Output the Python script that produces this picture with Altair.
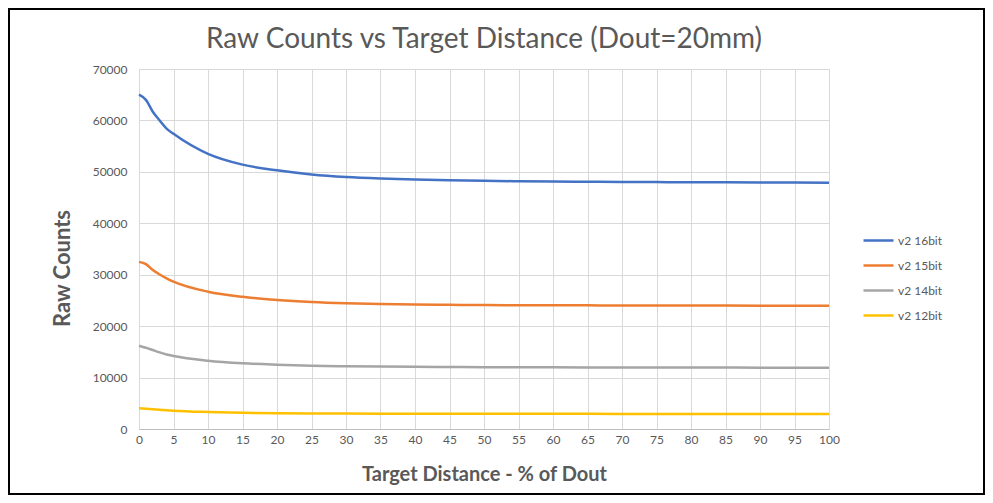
import altair as alt
import pandas as pd

x_vals = [0, 1, 2, 3, 4, 5, 10, 15, 20, 25, 30, 35, 40, 45, 50, 55, 60, 65, 70, 75, 80, 85, 90, 95, 100]
v16 = [65000, 64000, 61700, 60000, 58400, 57400, 53500, 51400, 50300, 49500, 49000, 48700, 48500, 48350,
       48250, 48180, 48120, 48080, 48040, 48010, 47980, 47960, 47940, 47920, 47900]
v15 = [32500, 32050, 30900, 30050, 29300, 28650, 26700, 25700, 25100, 24700, 24450, 24300, 24200, 24150,
       24100, 24080, 24060, 24040, 24020, 24010, 24000, 23990, 23980, 23970, 23960]
v14 = [16200, 15800, 15350, 14900, 14500, 14200, 13280, 12780, 12500, 12300, 12200, 12130, 12080, 12050,
       12020, 12000, 11990, 11980, 11970, 11960, 11950, 11940, 11930, 11925, 11920]
v12 = [4050, 3950, 3850, 3750, 3650, 3560, 3300, 3150, 3060, 3010, 2990, 2975, 2965, 2958,
       2952, 2948, 2945, 2942, 2940, 2937, 2934, 2930, 2927, 2923, 2920]
series_names = ["v2 16bit", "v2 15bit", "v2 14bit", "v2 12bit"]
series_colors = ["#4472C4", "#ED7D31", "#A5A5A5", "#FFC000"]
x_ticks = list(range(0, 101, 5))
y_ticks = list(range(0, 70001, 10000))

rows = []
for name, vals in zip(series_names, [v16, v15, v14, v12]):
    for xv, yv in zip(x_vals, vals):
        rows.append({"x": xv, "y": yv, "series": name})
df = pd.DataFrame(rows)

FONT = "Lato"
GRAY = "#595959"

lines = alt.Chart(df).mark_line(strokeWidth=2.5, interpolate="monotone").encode(
    x=alt.X("x:Q", scale=alt.Scale(domain=[0, 100], nice=False),
            axis=alt.Axis(values=x_ticks, title="Target Distance - % of Dout", grid=True,
                          gridColor="#d9d9d9", ticks=False, domainColor="#bfbfbf",
                          labelColor=GRAY, labelFontSize=12, labelPadding=5, labelFlush=False,
                          titleColor=GRAY, titleFontSize=20, titleFontWeight="bold",
                          titlePadding=19, labelFont=FONT, titleFont=FONT)),
    y=alt.Y("y:Q", scale=alt.Scale(domain=[0, 70000], nice=False),
            axis=alt.Axis(values=y_ticks, format="d", title="Raw Counts", grid=True,
                          gridColor="#d9d9d9", ticks=False, domain=False, labelColor=GRAY,
                          labelFontSize=12, labelPadding=12, titleColor=GRAY, titleFontSize=22,
                          titleFontWeight="bold", titlePadding=18, titleY=199,
                          labelFont=FONT, titleFont=FONT)),
    color=alt.Color("series:N", sort=series_names,
                    scale=alt.Scale(domain=series_names, range=series_colors),
                    legend=alt.Legend(title=None, orient="none", legendX=723, legendY=155,
                                      symbolType="stroke", symbolSize=900, symbolStrokeWidth=2.5,
                                      labelFontSize=12, labelColor=GRAY, labelFont=FONT,
                                      rowPadding=2, labelOffset=3)),
)

border = alt.Chart(pd.DataFrame({"a": [0]})).mark_rect(
    fillOpacity=0, stroke="black", strokeWidth=2, clip=False
).encode(x=alt.value(-130), x2=alt.value(845), y=alt.value(-60), y2=alt.value(425))

chart = alt.layer(border, lines).properties(
    width=690, height=360,
    padding={"left": 131, "top": 61, "right": 156, "bottom": 66},
    autosize=alt.AutoSizeParams(type="none"),
    title=alt.Title("Raw Counts vs Target Distance (Dout=20mm)", fontSize=28, color=GRAY,
                    font=FONT, fontWeight="normal", anchor="middle", offset=18, dy=64),
).configure_view(stroke=None).configure(background="white")

chart.save("out.html", embed_options={"renderer": "svg", "actions": False})
